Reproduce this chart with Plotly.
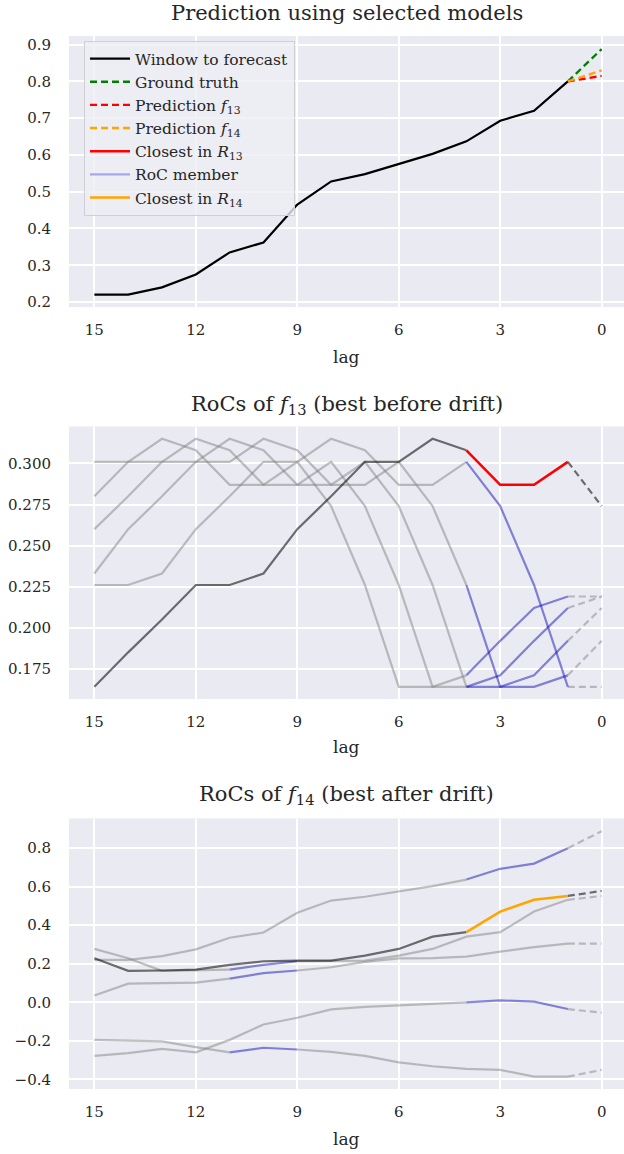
import plotly.graph_objects as go

# ---------------- data ----------------
lags = [15, 14, 13, 12, 11, 10, 9, 8, 7, 6, 5, 4, 3, 2, 1, 0]
x_ticks = [15, 12, 9, 6, 3, 0]

# top panel: window (lags 15..1) and the step to lag 0
window = [0.220, 0.220, 0.240, 0.275, 0.335, 0.362, 0.465, 0.528, 0.548,
          0.575, 0.603, 0.637, 0.693, 0.720, 0.800]
truth_next = 0.888
pred_f13_next = 0.815
pred_f14_next = 0.830

# middle panel: RoC of f13 (values at lags 15..0)
roc13_closest = [0.164, 0.185, 0.205, 0.226, 0.226, 0.233, 0.260, 0.280, 0.301,
                 0.301, 0.315, 0.308, 0.287, 0.287, 0.301, 0.274]
roc13_members = [
    [0.301, 0.301, 0.315, 0.308, 0.287, 0.287, 0.301, 0.274, 0.226, 0.164,
     0.164, 0.171, 0.192, 0.212, 0.219, 0.219],
    [0.280, 0.301, 0.301, 0.315, 0.308, 0.287, 0.287, 0.301, 0.274, 0.226,
     0.164, 0.164, 0.171, 0.192, 0.212, 0.219],
    [0.260, 0.280, 0.301, 0.301, 0.315, 0.308, 0.287, 0.287, 0.301, 0.274,
     0.226, 0.164, 0.164, 0.171, 0.192, 0.212],
    [0.233, 0.260, 0.280, 0.301, 0.301, 0.315, 0.308, 0.287, 0.287, 0.301,
     0.274, 0.226, 0.164, 0.164, 0.171, 0.192],
    [0.226, 0.226, 0.233, 0.260, 0.280, 0.301, 0.301, 0.315, 0.308, 0.287,
     0.287, 0.301, 0.274, 0.226, 0.164, 0.164],
]
roc13_member_span = [(4, 1), (4, 1), (4, 1), (4, 1), (4, 1)]
roc13_closest_span = (4, 1)

# bottom panel: RoC of f14 (values at lags 15..0)
roc14_closest = [0.229, 0.163, 0.165, 0.170, 0.194, 0.213, 0.216, 0.216, 0.242,
                 0.277, 0.341, 0.364, 0.471, 0.532, 0.552, 0.578]
roc14_members = [
    [0.220, 0.220, 0.240, 0.275, 0.335, 0.362, 0.465, 0.528, 0.548, 0.575,
     0.603, 0.637, 0.693, 0.720, 0.800, 0.888],
    [0.277, 0.229, 0.163, 0.165, 0.170, 0.194, 0.213, 0.216, 0.216, 0.242,
     0.277, 0.341, 0.364, 0.471, 0.532, 0.552],
    [0.035, 0.097, 0.100, 0.102, 0.123, 0.151, 0.165, 0.182, 0.210, 0.228,
     0.229, 0.237, 0.263, 0.286, 0.305, 0.305],
    [-0.195, -0.200, -0.203, -0.233, -0.260, -0.236, -0.245, -0.257, -0.278,
     -0.312, -0.332, -0.346, -0.351, -0.386, -0.386, -0.351],
    [-0.278, -0.264, -0.242, -0.260, -0.195, -0.115, -0.080, -0.037, -0.024,
     -0.016, -0.006, 0.000, 0.010, 0.003, -0.035, -0.054],
]
roc14_member_span = [(4, 1), (11, 9), (11, 9), (11, 9), (4, 1)]
roc14_closest_span = (4, 1)

# ---------------- style ----------------
FONT = "DejaVu Serif"
TXT = "#262626"
BG = "#eaeaf2"
GRAY = "rgba(128,128,128,0.48)"
DARK = "rgba(0,0,0,0.55)"
BLUE = "rgba(0,0,180,0.46)"
BLUE_LEG = "#a6a6f2"

W, H = 624, 1154
ML, MR, MT, MB = 69, 0, 36, 65
PH = H - MT - MB
PW = W - ML - MR


def py(y):
    return 1 - (y - MT) / PH


def px(x):
    return (x - ML) / PW


fig = go.Figure()


def add_member(vals, span, color, hcolor, hwidth, axis, width=2.2):
    xa, ya = axis
    i0 = lags.index(span[0])
    i1 = lags.index(span[1])
    fig.add_trace(go.Scatter(x=lags[:i0 + 1], y=vals[:i0 + 1], mode="lines",
                             line=dict(color=color, width=width), xaxis=xa, yaxis=ya,
                             showlegend=False, hoverinfo="skip"))
    if i1 < 14:
        fig.add_trace(go.Scatter(x=lags[i1:15], y=vals[i1:15], mode="lines",
                                 line=dict(color=color, width=width), xaxis=xa, yaxis=ya,
                                 showlegend=False, hoverinfo="skip"))
    fig.add_trace(go.Scatter(x=lags[14:16], y=vals[14:16], mode="lines",
                             line=dict(color=color, width=width, dash="7px,4px"),
                             xaxis=xa, yaxis=ya, showlegend=False, hoverinfo="skip"))
    fig.add_trace(go.Scatter(x=lags[i0:i1 + 1], y=vals[i0:i1 + 1], mode="lines",
                             line=dict(color=hcolor, width=hwidth), xaxis=xa, yaxis=ya,
                             showlegend=False, hoverinfo="skip"))


# ---- top panel ----
fig.add_trace(go.Scatter(x=lags[:15], y=window, mode="lines", name="Window to forecast",
                         line=dict(color="black", width=2.2), xaxis="x", yaxis="y",
                         legendrank=1))
fig.add_trace(go.Scatter(x=[1, 0], y=[window[-1], truth_next], mode="lines",
                         name="Ground truth", line=dict(color="green", width=2.3, dash="7px,4px"),
                         xaxis="x", yaxis="y", legendrank=2))
fig.add_trace(go.Scatter(x=[1, 0], y=[window[-1], pred_f13_next], mode="lines",
                         name="Prediction <i>f</i><sub>13</sub>",
                         line=dict(color="red", width=2.3, dash="7px,4px"),
                         xaxis="x", yaxis="y", legendrank=3))
fig.add_trace(go.Scatter(x=[1, 0], y=[window[-1], pred_f14_next], mode="lines",
                         name="Prediction <i>f</i><sub>14</sub>",
                         line=dict(color="orange", width=2.3, dash="7px,4px"),
                         xaxis="x", yaxis="y", legendrank=4))
fig.add_trace(go.Scatter(x=[None], y=[None], mode="lines", name="Closest in <i>R</i><sub>13</sub>",
                         line=dict(color="red", width=2.4), xaxis="x", yaxis="y", legendrank=5))
fig.add_trace(go.Scatter(x=[None], y=[None], mode="lines", name="RoC member",
                         line=dict(color=BLUE_LEG, width=2.4), xaxis="x", yaxis="y", legendrank=6))
fig.add_trace(go.Scatter(x=[None], y=[None], mode="lines", name="Closest in <i>R</i><sub>14</sub>",
                         line=dict(color="orange", width=2.4), xaxis="x", yaxis="y", legendrank=7))

# ---- middle panel ----
for vals, span in zip(roc13_members, roc13_member_span):
    add_member(vals, span, GRAY, BLUE, 2.2, ("x2", "y2"))
add_member(roc13_closest, roc13_closest_span, DARK, "red", 2.6, ("x2", "y2"))

# ---- bottom panel ----
for vals, span in zip(roc14_members, roc14_member_span):
    add_member(vals, span, GRAY, BLUE, 2.2, ("x3", "y3"))
add_member(roc14_closest, roc14_closest_span, DARK, "orange", 2.6, ("x3", "y3"))

# ---------------- layout ----------------
tickfont = dict(family=FONT, size=15, color=TXT)
xcommon = dict(range=[15.75, -0.66], tickvals=x_ticks, showgrid=True, gridcolor="white",
               gridwidth=1.8, zeroline=False, showline=False, ticks="outside",
               ticklen=9, tickcolor="rgba(0,0,0,0)", tickfont=tickfont)
ycommon = dict(showgrid=True, gridcolor="white", gridwidth=1.8, zeroline=False,
               showline=False, ticks="outside", ticklen=14, tickcolor="rgba(0,0,0,0)",
               tickfont=tickfont)

fig.update_layout(
    width=W, height=H, paper_bgcolor="white", plot_bgcolor=BG,
    margin=dict(l=ML, r=MR, t=MT, b=MB),
    font=dict(family=FONT, size=15, color=TXT),
    xaxis=dict(domain=[0, 1], anchor="y", **xcommon),
    yaxis=dict(domain=[py(307), 1], anchor="x", range=[0.1865, 0.9235],
               tickvals=[0.2, 0.3, 0.4, 0.5, 0.6, 0.7, 0.8, 0.9], tickformat=".1f", **ycommon),
    xaxis2=dict(domain=[0, 1], anchor="y2", **xcommon),
    yaxis2=dict(domain=[py(699), py(426.5)], anchor="x2", range=[0.1566, 0.3225],
                tickvals=[0.175, 0.2, 0.225, 0.25, 0.275, 0.3], tickformat=".3f", **ycommon),
    xaxis3=dict(domain=[0, 1], anchor="y3", **xcommon),
    yaxis3=dict(domain=[0, py(818.5)], anchor="x3", range=[-0.45, 0.954],
                tickvals=[-0.4, -0.2, 0.0, 0.2, 0.4, 0.6, 0.8], tickformat=".1f", **ycommon),
    legend=dict(x=px(84), y=py(41), xanchor="left", yanchor="top",
                bgcolor="rgba(238,238,244,0.8)", bordercolor="#d0d0d4", borderwidth=1,
                font=dict(family=FONT, size=15.5, color=TXT), tracegroupgap=0,
                itemwidth=40),
    showlegend=True,
)

titles = [("Prediction using selected models", 13),
          ("RoCs of <i>f</i><sub>13</sub> (best before drift)", 405),
          ("RoCs of <i>f</i><sub>14</sub> (best after drift)", 795)]
for t, y in titles:
    fig.add_annotation(text=t, x=0.5, y=py(y), xref="paper", yref="paper",
                       showarrow=False, xanchor="center", yanchor="middle",
                       font=dict(family=FONT, size=21, color=TXT))
for y in [357, 747, 1139]:
    fig.add_annotation(text="lag", x=0.5, y=py(y), xref="paper", yref="paper",
                       showarrow=False, xanchor="center", yanchor="middle",
                       font=dict(family=FONT, size=17, color=TXT))

fig.write_html("out.html", config={"displayModeBar": False},
               post_script="document.body.style.margin='0px';")
